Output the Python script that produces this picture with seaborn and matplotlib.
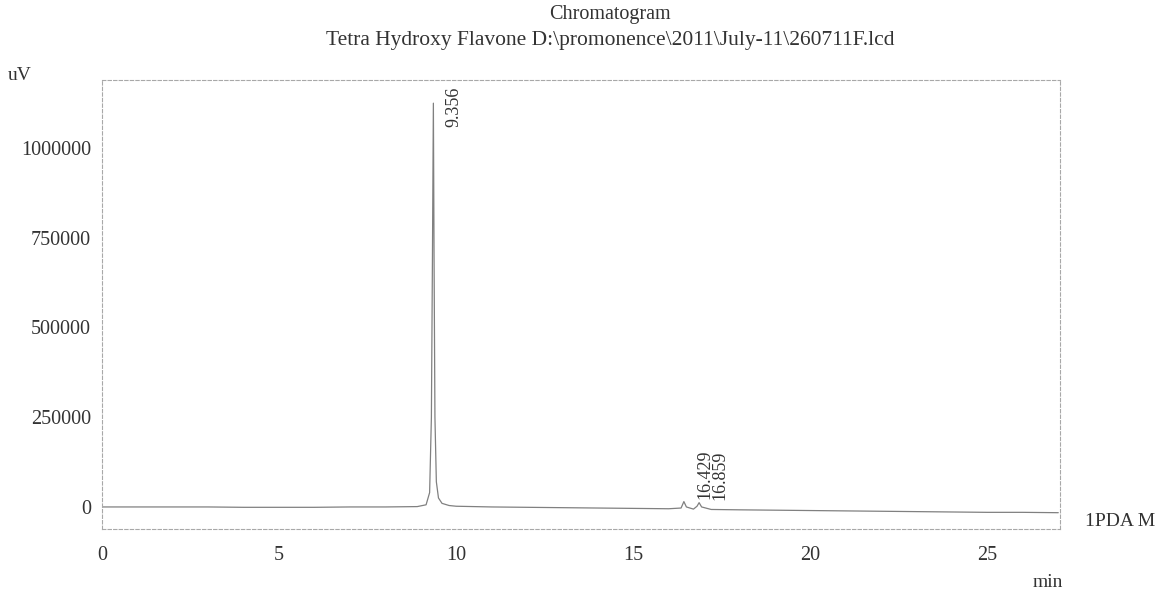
import matplotlib
matplotlib.use('Agg')
import matplotlib.pyplot as plt
import seaborn as sns
import pandas as pd

# trace (min, uV)
time = [0, 1, 2, 3, 4, 5, 6, 7, 8, 8.9, 9.15, 9.25, 9.3, 9.33, 9.356, 9.375, 9.4,
        9.44, 9.5, 9.6, 9.8, 10, 11, 12, 13, 14, 15, 16, 16.35, 16.429, 16.5, 16.7,
        16.8, 16.859, 16.93, 17.2, 18, 19, 20, 21, 22, 23, 24, 25, 26, 27]
signal = [0, 0, 0, 0, -1000, -1000, -1000, 0, 0, 1000, 6000, 40000, 250000, 700000,
          1125000, 700000, 250000, 70000, 25000, 10000, 4000, 2000, 0, -1000, -2000,
          -3000, -4000, -5000, -3000, 15000, 0, -6000, 2000, 12000, 0, -7000, -8000,
          -9000, -10000, -11000, -12000, -13000, -14000, -15000, -15000, -16000]

peak_times = [9.356, 16.429, 16.859]
peak_labels = ['9.356', '16.429', '16.859']
peak_heights = [1125000, 15000, 12000]

xticks = [0, 5, 10, 15, 20, 25]
yticks = [0, 250000, 500000, 750000, 1000000]

df = pd.DataFrame({'time': time, 'signal': signal})

sns.set_theme(style='white')
plt.rcParams['font.family'] = ['Liberation Serif', 'DejaVu Serif']
txt = '#333333'

fig = plt.figure(figsize=(11.58, 5.93), dpi=100)
ax = fig.add_axes([0.0881, 0.108, 0.8273, 0.757])

sns.lineplot(data=df, x='time', y='signal', ax=ax, color='#808080', linewidth=0.9)

# retention time labels
for t, lab, h in zip(peak_times, peak_labels, peak_heights):
    y = min(h, 1050000) + 8000
    ax.annotate(lab, (t, y), xytext=(15, 0), textcoords='offset points',
                rotation=90, ha='center', va='bottom', fontsize=13, color=txt)

ax.set_xlim(0, 27.05)
ax.set_ylim(-61300, 1189400)
ax.set_xticks(xticks)
ax.set_yticks(yticks)
ax.set_xticklabels([str(v) for v in xticks])
ax.set_yticklabels([str(v) for v in yticks])
ax.tick_params(axis='x', length=0, pad=12, labelsize=14.5, labelcolor=txt)
ax.tick_params(axis='y', length=2, pad=6, labelsize=14.5, labelcolor=txt, color='#999999')
ax.set_xlabel('')
ax.set_ylabel('')

for s in ax.spines.values():
    s.set_color('#a8a8a8')
    s.set_linewidth(0.8)
    s.set_linestyle((0, (3, 2)))

fig.text(0.527, 0.975, 'Chromatogram', ha='center', va='center', fontsize=14.5, color=txt)
fig.text(0.527, 0.932, 'Tetra Hydroxy Flavone D:\\promonence\\2011\\July-11\\260711F.lcd',
         ha='center', va='center', fontsize=15.5, color=txt)
fig.text(0.007, 0.873, 'uV', ha='left', va='center', fontsize=14, color=txt)
fig.text(0.892, 0.017, 'min', ha='left', va='center', fontsize=14, color=txt)
fig.text(0.937, 0.12, '1PDA M', ha='left', va='center', fontsize=14, color=txt)

fig.savefig('out.png', dpi=100)
